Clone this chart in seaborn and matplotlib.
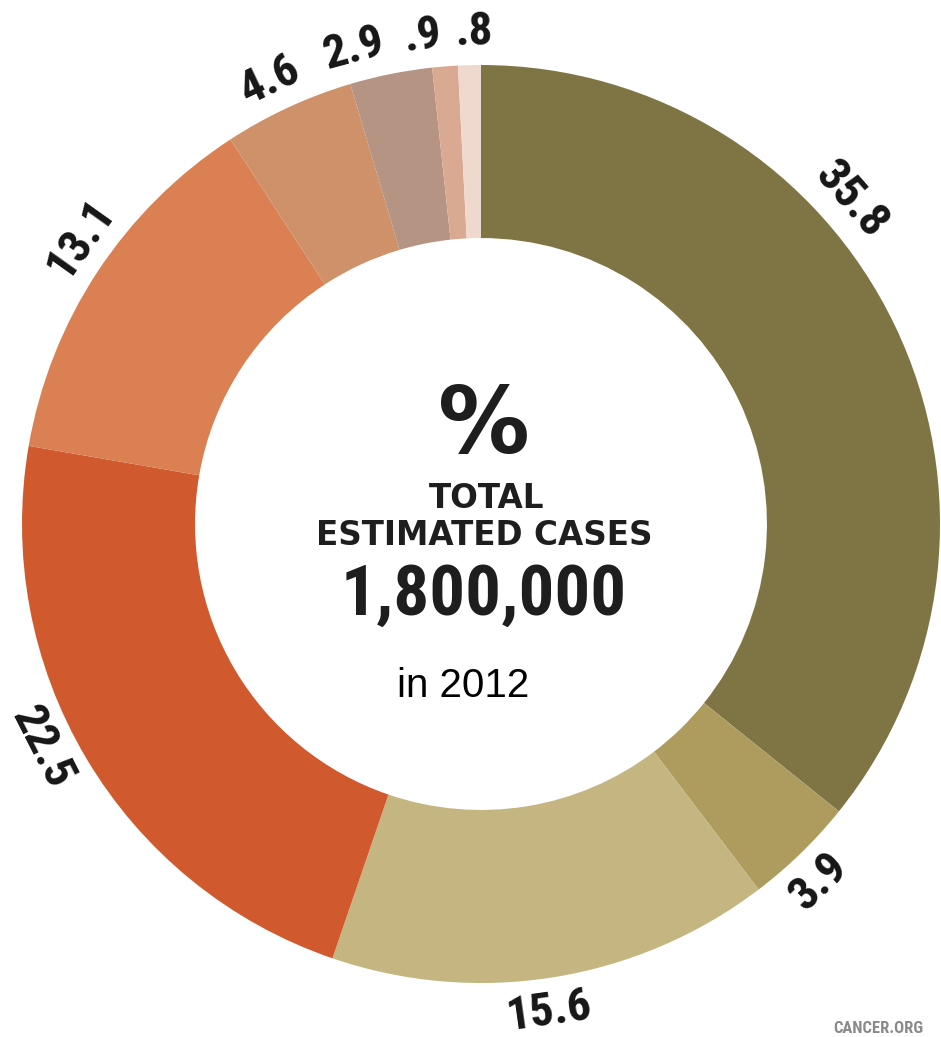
import os
import numpy as np
import matplotlib
matplotlib.use("Agg")
import matplotlib.pyplot as plt
from matplotlib import font_manager
from matplotlib.font_manager import FontProperties
import seaborn as sns

# Share of total estimated cases, clockwise from 12 o'clock
shares = [35.8, 3.9, 15.6, 22.5, 13.1, 4.6, 2.9, 0.9, 0.8]
share_labels = ["35.8", "3.9", "15.6", "22.5", "13.1", "4.6", "2.9", ".9", ".8"]
slice_colors = ["#7f7444", "#ae9c5e", "#c4b581", "#d05a2e", "#da8052",
                "#cf9169", "#b69484", "#d9a992", "#efd9cf"]

center_title = "%"
center_line1 = "TOTAL"
center_line2 = "ESTIMATED CASES"
center_total = "1,800,000"
center_year = "in 2012"
source_note = "CANCER.ORG"

# label placement: angular nudge (deg) away from each slice's middle
label_nudge = [15.6, -0.8, -1.2, -3.7, -2.1, 0.6, 3.7, 2.4, -0.6]
LABEL_R = 1.072

sns.set_theme(style="white")
plt.rcParams["font.family"] = ["Liberation Sans", "DejaVu Sans"]


def pick_font(preferences):
    """Return (FontProperties, is_condensed) for the first installed file."""
    files = {os.path.splitext(os.path.basename(f.fname))[0].lower(): f.fname
             for f in font_manager.fontManager.ttflist}
    for key, condensed in preferences:
        if key in files:
            return FontProperties(fname=files[key]), condensed
    return FontProperties(family="DejaVu Sans", weight="bold"), False


label_font, label_cond = pick_font([
    ("notosans-condensedextrabold", True),
    ("notosans-condensedblack", True),
    ("notosans-condensedbold", True),
    ("notosans-extracondensedextrabold", True),
    ("notosans-extracondensedbold", True),
    ("robotocondensed-bold", True),
    ("liberationsansnarrow-bold", True),
    ("dejavusanscondensed-bold", False),
])
heavy_font, heavy_cond = pick_font([
    ("notosans-condensedblack", True),
    ("notosans-condensedextrabold", True),
    ("notosans-condensedbold", True),
    ("robotocondensed-bold", True),
    ("liberationsansnarrow-bold", True),
    ("dejavusanscondensed-bold", False),
])

W, H = 941, 1037
fig = plt.figure(figsize=(W / 100, H / 100), dpi=100)
ax = fig.add_axes([0, 0, 1, 1])

R_PX = 459.0
CX, CY = 481.0, 524.0


def px(x, y):
    return (x - CX) / R_PX, (CY - y) / R_PX


ax.pie(shares, colors=slice_colors, startangle=90, counterclock=False,
       radius=1.0, wedgeprops=dict(width=0.377, linewidth=0))

x0, y1 = px(0, 0)
x1, y0 = px(W, H)
ax.set_xlim(x0, x1)
ax.set_ylim(y0, y1)
ax.set_aspect("auto")
ax.axis("off")

label_size = 34 if label_cond else 27
total = sum(shares)
start = 90.0
for val, lab, nudge in zip(shares, share_labels, label_nudge):
    span = 360.0 * val / total
    mid = start - span / 2 + nudge
    start -= span
    th = np.deg2rad(mid)
    rot = mid - 90.0
    while rot <= -90:
        rot += 180
    while rot > 90:
        rot -= 180
    ax.text(LABEL_R * np.cos(th), LABEL_R * np.sin(th), lab, rotation=rot,
            rotation_mode="anchor", ha="center", va="center",
            fontproperties=label_font, fontsize=label_size, color="#161616")

ax.text(*px(484, 427), center_title, ha="center", va="center",
        family="DejaVu Sans", fontsize=66, fontweight="bold", color="#1e1e1e")
ax.text(*px(487, 498), center_line1, ha="center", va="center",
        family="DejaVu Sans", fontsize=23.5, fontweight="bold", color="#1e1e1e")
ax.text(*px(484, 535), center_line2, ha="center", va="center",
        family="DejaVu Sans", fontsize=23.5, fontweight="bold", color="#1e1e1e")
ax.text(*px(484, 595), center_total, ha="center", va="center",
        fontproperties=heavy_font, fontsize=51 if heavy_cond else 42,
        color="#1e1e1e")
ax.text(*px(463, 686), center_year, ha="center", va="center",
        fontsize=29, color="#000000")
ax.text(*px(833, 1021), source_note, ha="left", va="top",
        fontproperties=label_font, fontsize=12, color="#8a8a8a")

fig.savefig("out.png", dpi=100)
